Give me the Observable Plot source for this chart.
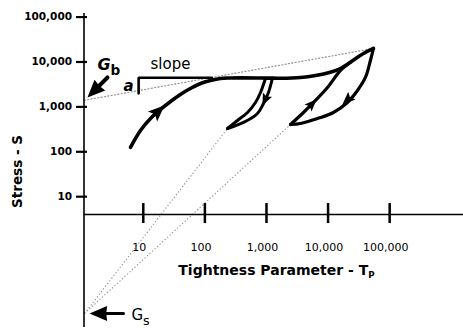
<!DOCTYPE html>
<html><head><meta charset="utf-8">
<script src="https://cdn.jsdelivr.net/npm/d3@7"></script>
<script src="https://cdn.jsdelivr.net/npm/@observablehq/plot@0.6"></script>
<style>html,body{margin:0;padding:0;background:#fff;} #chart svg{display:block;}</style>
</head><body><div id="chart"></div>
<script>
// ---- scales / ticks ----
const xDomain = [1.09, 1.58e6];
const yDomain = [0.0122, 120200];
const xAxisStress = 4.0;
const xTicks = [10, 100, 1000, 10000, 100000];
const yTicks = [10, 100, 1000, 10000, 100000];

// ---- initial loading curve, plateau and rise to peak ----
const loadT = [6.2, 9.0, 13.1, 19, 27.7, 40, 58, 85, 123, 179, 261, 800, 1690, 3560, 6240, 10900, 15900, 23100, 37600, 54600];
const loadS = [125, 298, 552, 875, 1320, 1890, 2570, 3320, 3870, 4300, 4400, 4400, 4350, 4520, 5000, 5930, 7160, 9900, 15450, 20000];

// ---- first unload / reload loop ----
const loop1UpT = [233, 338, 492, 663, 800, 964];
const loop1UpS = [330, 498, 750, 1254, 2094, 4350];
const loop1DownT = [1251, 1077, 894, 714, 424, 233];
const loop1DownS = [4400, 2094, 1190, 713, 450, 330];

// ---- second unload / reload loop ----
const loop2UpT = [2455, 3990, 5800, 9780, 15900, 23100];
const loop2UpS = [405, 750, 1254, 2705, 6470, 9900];
const loop2DownT = [54600, 48700, 40400, 30000, 20600, 12200, 6730, 3560, 2455];
const loop2DownS = [20000, 10800, 4520, 2317, 1254, 750, 552, 427, 405];

// ---- "slope a" bracket ----
const slopeT = [8.4, 8.4, 130];
const slopeS = [2000, 4450, 4450];

// ---- dotted construction lines ----
const gbLineT = [1.1, 54600];
const gbLineS = [1400, 20000];
const gsPointT = 1.11, gsPointS = 0.025;
const gsEndsT = [233, 2455];
const gsEndsS = [330, 405];

// ---- arrowheads on curves (from -> tip) ----
const headFromT = [13.1, 1077, 3990, 30000];
const headFromS = [552, 2094, 750, 2317];
const headTipT = [22.1, 861, 6490, 17100];
const headTipS = [1075, 1075, 1462, 1131];
const headSizes = [6.8, 5, 5, 5.4];

// ---- annotation arrows (tail -> tip) ----
const gbArrowT = [2.62, 1.24];
const gbArrowS = [4520, 1620];
const gsArrowT = [4.77, 1.34];
const gsArrowS = [0.025, 0.025];

// ---- labels ----
const slopeLabel = {text: "slope", T: 13.1, S: 6810};
const aLabel = {text: "a", T: 4.77, S: 2317};
const gbLabel = {text: "G_b", T: 1.8, S: 6470};
const gsLabel = {text: "G_s", T: 6.43, S: 0.0175};
const xTitle = {text: "Tightness Parameter - T_P", T: 1453, S: 0.176};
const yTitle = {text: "Stress - S", T: 0.0908, S: 36.4};

// ---- layout ----
const W = 463, H = 328, mL = 83.5, mR = 0, mT = 13, mB = 1;
const xs = d3.scaleLog().domain(xDomain).range([mL, W - mR]);
const ys = d3.scaleLog().domain(yDomain).range([H - mB, mT]);

const zip = (T, S) => T.map((t, i) => ({T: t, S: S[i]}));
const angleOf = (t1, s1, t2, s2) => {
  const dx = xs(t2) - xs(t1), dy = ys(s2) - ys(s1);
  return Math.atan2(dx, -dy) * 180 / Math.PI;
};
const lerpLog = (a, b, f) => Math.pow(10, Math.log10(a) + f * (Math.log10(b) - Math.log10(a)));

const curveHeads = headTipT.map((t, i) => ({
  T: t, S: headTipS[i], r: headSizes[i],
  angle: angleOf(headFromT[i], headFromS[i], t, headTipS[i])
}));
const bigHeads = [
  {T: gbArrowT[1], S: gbArrowS[1], angle: angleOf(gbArrowT[0], gbArrowS[0], gbArrowT[1], gbArrowS[1])},
  {T: gsArrowT[1], S: gsArrowS[1], angle: angleOf(gsArrowT[0], gsArrowS[0], gsArrowT[1], gsArrowS[1])}
];
const gbShaft = [{T: gbArrowT[0], S: gbArrowS[0]}, {T: lerpLog(gbArrowT[0], gbArrowT[1], 0.6), S: lerpLog(gbArrowS[0], gbArrowS[1], 0.6)}];
const gsShaft = [{T: gsArrowT[0], S: gsArrowS[0]}, {T: lerpLog(gsArrowT[0], gsArrowT[1], 0.7), S: lerpLog(gsArrowS[0], gsArrowS[1], 0.7)}];

// arrowhead symbol with its tip at the origin, pointing up
const headSymbol = (lr, wr, notch) => ({
  draw(ctx, size) {
    const r = Math.sqrt(size / Math.PI);
    const L = lr * r, w = wr * r / 2;
    ctx.moveTo(0, 0);
    ctx.lineTo(w, L);
    ctx.lineTo(0, L * notch);
    ctx.lineTo(-w, L);
    ctx.closePath();
  }
});

const fmt = d3.format(",");
const dotted = {stroke: "#8a8a8a", strokeWidth: 1.1, strokeDasharray: "1.2,2.2"};

const chart = Plot.plot({
  width: W, height: H,
  marginLeft: mL, marginRight: mR, marginTop: mT, marginBottom: mB,
  x: {type: "log", domain: xDomain, range: [mL, W - mR], axis: null},
  y: {type: "log", domain: yDomain, range: [H - mB, mT], axis: null},
  r: {type: "identity"},
  style: {background: "white", fontFamily: "'DejaVu Sans', sans-serif", color: "black"},
  marks: [
    // dotted construction lines
    Plot.line(zip(gbLineT, gbLineS), {x: "T", y: "S", ...dotted}),
    Plot.link(gsEndsT.map((t, i) => ({T: t, S: gsEndsS[i]})), {x1: () => gsPointT, y1: () => gsPointS, x2: "T", y2: "S", ...dotted}),
    // axes
    Plot.ruleX([xDomain[0]], {stroke: "black", strokeWidth: 1.6}),
    Plot.ruleY([xAxisStress], {stroke: "black", strokeWidth: 1.6}),
    Plot.ruleY(yTicks, {y: d => d, x1: xDomain[0], x2: xDomain[0], insetLeft: -7.5, insetRight: -3.5, stroke: "black", strokeWidth: 2.2}),
    Plot.ruleX(xTicks, {x: d => d, y1: xAxisStress, y2: xAxisStress, insetTop: -11, insetBottom: -9, stroke: "black", strokeWidth: 2.5}),
    Plot.text(yTicks, {x: xDomain[0], y: d => d, text: d => fmt(d), textAnchor: "end", dx: -12, fontWeight: "bold", fontSize: 10.5, fill: "black"}),
    Plot.text(xTicks, {x: d => d, y: xAxisStress, text: d => fmt(d), dy: 36, dx: -4, lineAnchor: "bottom", fontSize: 11, fill: "black"}),
    // curves
    Plot.line(zip(slopeT, slopeS), {x: "T", y: "S", stroke: "black", strokeWidth: 2.6, strokeLinejoin: "miter"}),
    Plot.line(zip(loadT, loadS), {x: "T", y: "S", curve: "catmull-rom", stroke: "black", strokeWidth: 3.6, strokeLinecap: "round"}),
    Plot.line(zip(loop1UpT, loop1UpS), {x: "T", y: "S", curve: "catmull-rom", stroke: "black", strokeWidth: 3, strokeLinecap: "round"}),
    Plot.line(zip(loop1DownT, loop1DownS), {x: "T", y: "S", curve: "catmull-rom", stroke: "black", strokeWidth: 3, strokeLinecap: "round"}),
    Plot.line(zip(loop2UpT, loop2UpS), {x: "T", y: "S", curve: "catmull-rom", stroke: "black", strokeWidth: 3.2, strokeLinecap: "round"}),
    Plot.line(zip(loop2DownT, loop2DownS), {x: "T", y: "S", curve: "catmull-rom", stroke: "black", strokeWidth: 3.2, strokeLinecap: "round"}),
    Plot.dot(curveHeads, {x: "T", y: "S", r: "r", rotate: "angle", symbol: headSymbol(2.4, 2.0, 0.8), fill: "black", stroke: "none"}),
    // annotation arrows
    Plot.line(gbShaft, {x: "T", y: "S", stroke: "black", strokeWidth: 4}),
    Plot.line(gsShaft, {x: "T", y: "S", stroke: "black", strokeWidth: 3}),
    Plot.dot(bigHeads, {x: "T", y: "S", r: 8, rotate: "angle", symbol: headSymbol(2.2, 1.9, 0.95), fill: "black", stroke: "none"}),
    // labels
    Plot.text([slopeLabel], {x: "T", y: "S", text: "text", textAnchor: "start", lineAnchor: "bottom", fontSize: 15, fill: "black"}),
    Plot.text([aLabel], {x: "T", y: "S", text: "text", textAnchor: "start", lineAnchor: "bottom", fontSize: 15, fontWeight: "bold", fontStyle: "italic", fill: "black"}),
    Plot.text([gbLabel], {x: "T", y: "S", text: "text", textAnchor: "start", lineAnchor: "bottom", fontSize: 16, fontWeight: "bold", fontStyle: "italic", fill: "black"}),
    Plot.text([gsLabel], {x: "T", y: "S", text: "text", textAnchor: "start", lineAnchor: "bottom", fontSize: 15, fill: "black"}),
    Plot.text([xTitle], {x: "T", y: "S", text: "text", lineAnchor: "bottom", fontSize: 14, fontWeight: "bold", fill: "black"}),
    Plot.text([yTitle], {x: "T", y: "S", text: "text", rotate: -90, fontSize: 13.5, fontWeight: "bold", fill: "black"})
  ]
});

// subscripts: "X_y" -> X with subscript y
const subStyles = {
  "G_b": {size: "0.85em", dy: "0.36em", style: "normal"},
  "G_s": {size: "0.85em", dy: "0.36em", style: "normal"},
  "Tightness Parameter - T_P": {size: "0.62em", dy: "0.25em", style: "normal"}
};
chart.querySelectorAll("text").forEach(t => {
  const s = t.textContent;
  const i = s.indexOf("_");
  if (i < 0) return;
  const st = subStyles[s] || {size: "0.8em", dy: "0.3em", style: "normal"};
  t.textContent = s.slice(0, i);
  const ts = document.createElementNS("http://www.w3.org/2000/svg", "tspan");
  ts.textContent = s.slice(i + 1);
  ts.setAttribute("font-size", st.size);
  ts.setAttribute("dy", st.dy);
  ts.setAttribute("font-style", st.style);
  t.appendChild(ts);
});

document.getElementById("chart").appendChild(chart);
</script>
</body></html>
